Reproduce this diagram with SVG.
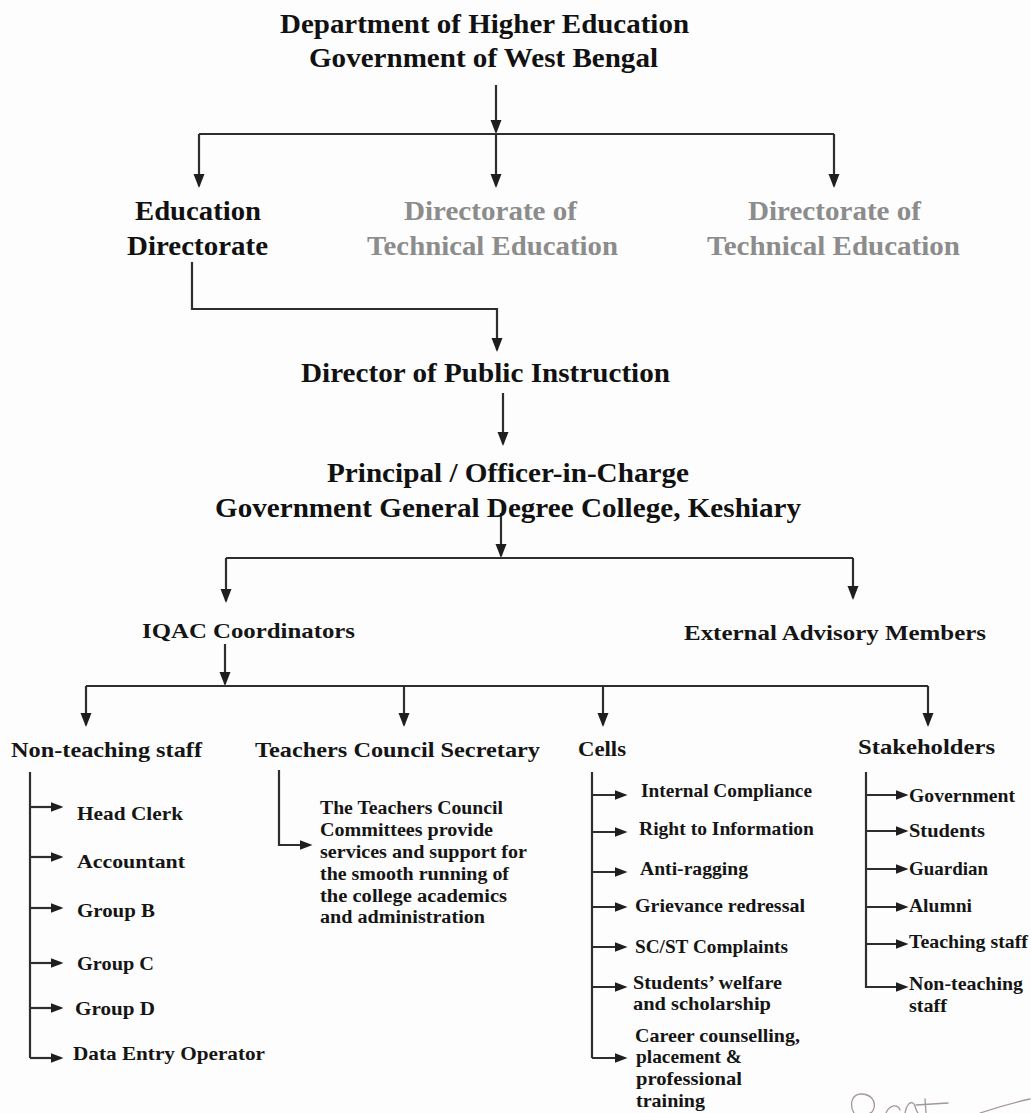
<svg xmlns="http://www.w3.org/2000/svg" width="1031" height="1113" viewBox="0 0 1031 1113">
<style>
  .top { font-family: "Liberation Serif", "Times New Roman", serif; font-weight: bold; font-size: 28px; fill: #111; }
  .gray { fill: #8c8c8c; }
  .lab { font-family: "Liberation Serif", "Times New Roman", serif; font-weight: bold; font-size: 22px; fill: #151515; }
  .item { font-family: "Liberation Serif", "Times New Roman", serif; font-weight: bold; font-size: 19.5px; fill: #151515; }
  .para { font-family: "Liberation Serif", "Times New Roman", serif; font-weight: bold; font-size: 18px; fill: #151515; }
  .ln { fill: none; stroke: #2e2e2e; stroke-width: 2.2; }
  .big { marker-end: url(#ah); }
  .sm { marker-end: url(#as); }
  .sig { fill: none; stroke: #a3979c; stroke-width: 1.3; stroke-linecap: round; }
</style>
<defs>
  <marker id="ah" markerUnits="userSpaceOnUse" markerWidth="16" markerHeight="12" refX="12" refY="5.5" orient="auto">
    <path d="M0,0 L14,5.5 L0,11 z" fill="#1e1e1e"/>
  </marker>
  <marker id="as" markerUnits="userSpaceOnUse" markerWidth="14" markerHeight="11" refX="10.5" refY="5" orient="auto">
    <path d="M0,0 L13,5 L0,10 z" fill="#1e1e1e"/>
  </marker>
</defs>
<rect width="1031" height="1113" fill="#fdfdfd"/>

<g id="connectors">
  <path class="ln big" d="M496,85 V132"/>
  <path class="ln" d="M199,134 H834"/>
  <path class="ln big" d="M199,134 V186"/>
  <path class="ln big" d="M496,134 V186"/>
  <path class="ln big" d="M834,134 V186"/>
  <path class="ln big" d="M192,262 V309 H497 V350"/>
  <path class="ln big" d="M503,393 V444"/>
  <path class="ln big" d="M501,513 V556"/>
  <path class="ln" d="M226,558 H853"/>
  <path class="ln big" d="M226,558 V601"/>
  <path class="ln big" d="M853,558 V598"/>
  <path class="ln big" d="M225,644 V684"/>
  <path class="ln" d="M86,686 H928"/>
  <path class="ln big" d="M86,686 V725"/>
  <path class="ln big" d="M404,686 V725"/>
  <path class="ln big" d="M603,686 V725"/>
  <path class="ln big" d="M928,686 V725"/>
  <!-- non-teaching staff -->
  <path class="ln" d="M30,772 V1058"/>
  <path class="ln sm" d="M30,807 H61"/>
  <path class="ln sm" d="M30,857 H61"/>
  <path class="ln sm" d="M30,908 H61"/>
  <path class="ln sm" d="M30,963 H61"/>
  <path class="ln sm" d="M30,1008 H61"/>
  <path class="ln sm" d="M30,1058 H61"/>
  <!-- teachers council -->
  <path class="ln sm" d="M279,770 V845 H310"/>
  <!-- cells -->
  <path class="ln" d="M592,772 V1058"/>
  <path class="ln sm" d="M592,795 H625"/>
  <path class="ln sm" d="M592,832 H625"/>
  <path class="ln sm" d="M592,872 H625"/>
  <path class="ln sm" d="M592,907 H625"/>
  <path class="ln sm" d="M592,947 H625"/>
  <path class="ln sm" d="M592,987 H625"/>
  <path class="ln sm" d="M592,1058 H625"/>
  <!-- stakeholders -->
  <path class="ln" d="M866,772 V988"/>
  <path class="ln sm" d="M866,795 H906"/>
  <path class="ln sm" d="M866,831 H906"/>
  <path class="ln sm" d="M866,869 H906"/>
  <path class="ln sm" d="M866,907 H906"/>
  <path class="ln sm" d="M866,944 H906"/>
  <path class="ln sm" d="M866,987 H906"/>
</g>

<g id="dept">
  <text class="top" x="280" y="33" textLength="409" lengthAdjust="spacingAndGlyphs">Department of Higher Education</text>
  <text class="top" x="309" y="67" textLength="349" lengthAdjust="spacingAndGlyphs">Government of West Bengal</text>
</g>
<g id="edu-dir">
  <text class="top" x="135" y="220" textLength="126" lengthAdjust="spacingAndGlyphs">Education</text>
  <text class="top" x="127" y="255" textLength="141" lengthAdjust="spacingAndGlyphs">Directorate</text>
</g>
<g id="tech-dir-1">
  <text class="top gray" x="404" y="220" textLength="173" lengthAdjust="spacingAndGlyphs">Directorate of</text>
  <text class="top gray" x="367" y="255" textLength="251" lengthAdjust="spacingAndGlyphs">Technical Education</text>
</g>
<g id="tech-dir-2">
  <text class="top gray" x="748" y="220" textLength="173" lengthAdjust="spacingAndGlyphs">Directorate of</text>
  <text class="top gray" x="707" y="255" textLength="253" lengthAdjust="spacingAndGlyphs">Technical Education</text>
</g>
<g id="dpi">
  <text class="top" x="301" y="382" textLength="369" lengthAdjust="spacingAndGlyphs">Director of Public Instruction</text>
</g>
<g id="principal">
  <text class="top" x="327" y="482" textLength="362" lengthAdjust="spacingAndGlyphs">Principal / Officer-in-Charge</text>
  <text class="top" x="215" y="517" textLength="586" lengthAdjust="spacingAndGlyphs">Government General Degree College, Keshiary</text>
</g>
<g id="iqac">
  <text class="lab" x="142" y="638" textLength="213" lengthAdjust="spacingAndGlyphs">IQAC Coordinators</text>
</g>
<g id="external">
  <text class="lab" x="684" y="640" textLength="302" lengthAdjust="spacingAndGlyphs">External Advisory Members</text>
</g>
<g id="non-teaching">
  <text class="lab" x="11" y="757" textLength="191" lengthAdjust="spacingAndGlyphs">Non-teaching staff</text>
  <text class="item" x="77" y="820" textLength="106" lengthAdjust="spacingAndGlyphs">Head Clerk</text>
  <text class="item" x="77" y="868" textLength="108" lengthAdjust="spacingAndGlyphs">Accountant</text>
  <text class="item" x="77" y="917" textLength="78" lengthAdjust="spacingAndGlyphs">Group B</text>
  <text class="item" x="77" y="970" textLength="77" lengthAdjust="spacingAndGlyphs">Group C</text>
  <text class="item" x="75" y="1015" textLength="80" lengthAdjust="spacingAndGlyphs">Group D</text>
  <text class="item" x="73" y="1060" textLength="192" lengthAdjust="spacingAndGlyphs">Data Entry Operator</text>
</g>
<g id="teachers-council">
  <text class="lab" x="255" y="757" textLength="285" lengthAdjust="spacingAndGlyphs">Teachers Council Secretary</text>
  <text class="para" x="320" y="814" textLength="183" lengthAdjust="spacingAndGlyphs">The Teachers Council</text>
  <text class="para" x="320" y="836" textLength="173" lengthAdjust="spacingAndGlyphs">Committees provide</text>
  <text class="para" x="320" y="858" textLength="207" lengthAdjust="spacingAndGlyphs">services and support for</text>
  <text class="para" x="320" y="880" textLength="189" lengthAdjust="spacingAndGlyphs">the smooth running of</text>
  <text class="para" x="320" y="902" textLength="187" lengthAdjust="spacingAndGlyphs">the college academics</text>
  <text class="para" x="320" y="923" textLength="165" lengthAdjust="spacingAndGlyphs">and administration</text>
</g>
<g id="cells">
  <text class="lab" x="578" y="756" textLength="48" lengthAdjust="spacingAndGlyphs">Cells</text>
  <text class="item" x="641" y="797" textLength="171" lengthAdjust="spacingAndGlyphs">Internal Compliance</text>
  <text class="item" x="639" y="835" textLength="175" lengthAdjust="spacingAndGlyphs">Right to Information</text>
  <text class="item" x="640" y="875" textLength="108" lengthAdjust="spacingAndGlyphs">Anti-ragging</text>
  <text class="item" x="635" y="912" textLength="170" lengthAdjust="spacingAndGlyphs">Grievance redressal</text>
  <text class="item" x="635" y="953" textLength="153" lengthAdjust="spacingAndGlyphs">SC/ST Complaints</text>
  <text class="item" x="633" y="989" textLength="149" lengthAdjust="spacingAndGlyphs">Students’ welfare</text>
  <text class="item" x="633" y="1010" textLength="138" lengthAdjust="spacingAndGlyphs">and scholarship</text>
  <text class="item" x="635" y="1042" textLength="165" lengthAdjust="spacingAndGlyphs">Career counselling,</text>
  <text class="item" x="636" y="1063" textLength="106" lengthAdjust="spacingAndGlyphs">placement &amp;</text>
  <text class="item" x="636" y="1085" textLength="106" lengthAdjust="spacingAndGlyphs">professional</text>
  <text class="item" x="636" y="1107" textLength="69" lengthAdjust="spacingAndGlyphs">training</text>
</g>
<g id="stakeholders">
  <text class="lab" x="858" y="754" textLength="137" lengthAdjust="spacingAndGlyphs">Stakeholders</text>
  <text class="item" x="909" y="802" textLength="106" lengthAdjust="spacingAndGlyphs">Government</text>
  <text class="item" x="909" y="837" textLength="76" lengthAdjust="spacingAndGlyphs">Students</text>
  <text class="item" x="909" y="875" textLength="79" lengthAdjust="spacingAndGlyphs">Guardian</text>
  <text class="item" x="909" y="912" textLength="63" lengthAdjust="spacingAndGlyphs">Alumni</text>
  <text class="item" x="909" y="948" textLength="119" lengthAdjust="spacingAndGlyphs">Teaching staff</text>
  <text class="item" x="909" y="990" textLength="114" lengthAdjust="spacingAndGlyphs">Non-teaching</text>
  <text class="item" x="909" y="1012" textLength="38" lengthAdjust="spacingAndGlyphs">staff</text>
</g>

<g id="signature">
  <path class="sig" d="M854,1113 C849,1104 852,1094 861,1094 C870,1094 876,1100 874,1108 C873,1111 871,1113 870,1113"/>
  <path class="sig" d="M886,1113 C890,1104 898,1104 900,1110 M905,1113 C906,1106 910,1100 914,1104 C916,1108 916,1111 918,1113"/>
  <path class="sig" d="M925,1099 L926,1113 M916,1105 L948,1103"/>
  <path class="sig" d="M980,1113 C995,1108 1012,1103 1030,1099"/>
</g>
</svg>
